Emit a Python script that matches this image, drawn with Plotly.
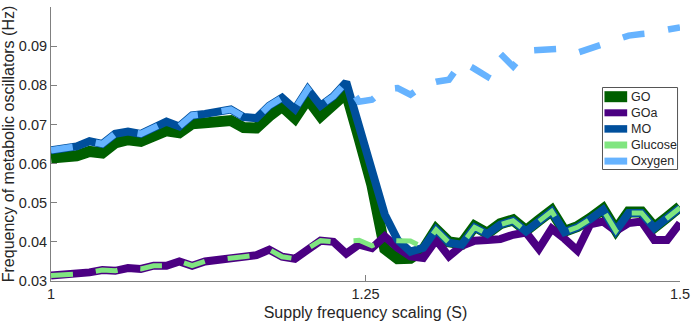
import plotly.graph_objects as go

# ---------------- data ----------------
S = [1.0000, 1.0102, 1.0204, 1.0306, 1.0408, 1.0510, 1.0612, 1.0714, 1.0816, 1.0918,
     1.1020, 1.1122, 1.1224, 1.1327, 1.1429, 1.1531, 1.1633, 1.1735, 1.1837, 1.1939,
     1.2041, 1.2143, 1.2245, 1.2347, 1.2449, 1.2551, 1.2653, 1.2755, 1.2857, 1.2959,
     1.3061, 1.3163, 1.3265, 1.3367, 1.3469, 1.3571, 1.3673, 1.3776, 1.3878, 1.3980,
     1.4082, 1.4184, 1.4286, 1.4388, 1.4490, 1.4592, 1.4694, 1.4796, 1.4898, 1.5000]

GO = [0.0614, 0.0616, 0.0620, 0.0631, 0.0627, 0.0653, 0.0661, 0.0657, 0.0674, 0.0684,
      0.0679, 0.0702, 0.0704, 0.0708, 0.0710, 0.0692, 0.0691, 0.0721, 0.0746, 0.0716,
      0.0765, 0.0721, 0.0750, 0.0780, 0.0665, 0.0545, 0.0382, 0.0357, 0.0358, 0.0380,
      0.0432, 0.0400, 0.0395, 0.0440, 0.0422, 0.0446, 0.0456, 0.0429, 0.0455, 0.0480,
      0.0427, 0.0439, 0.0460, 0.0484, 0.0430, 0.0476, 0.0476, 0.0437, 0.0463, 0.0490]

GOa = [0.0314, 0.0315, 0.0318, 0.0322, 0.0328, 0.0326, 0.0333, 0.0331, 0.0339, 0.0339,
       0.0350, 0.0339, 0.0350, 0.0355, 0.0357, 0.0362, 0.0366, 0.0380, 0.0362, 0.0357,
       0.0383, 0.0403, 0.0400, 0.0370, 0.0393, 0.0384, 0.0414, 0.0385, 0.0363, 0.0359,
       0.0405, 0.0363, 0.0390, 0.0403, 0.0405, 0.0407, 0.0418, 0.0424, 0.0382, 0.0434,
       0.0408, 0.0378, 0.0445, 0.0452, 0.0428, 0.0448, 0.0452, 0.0405, 0.0405, 0.0448]

MO = [0.0634, 0.0638, 0.0644, 0.0657, 0.0650, 0.0676, 0.0682, 0.0676, 0.0692, 0.0707,
      0.0695, 0.0723, 0.0727, 0.0733, 0.0738, 0.0719, 0.0716, 0.0748, 0.0768, 0.0739,
      0.0790, 0.0748, 0.0772, 0.0808, 0.0692, 0.0577, 0.0470, 0.0405, 0.0375, 0.0385,
      0.0431, 0.0398, 0.0393, 0.0437, 0.0420, 0.0444, 0.0454, 0.0427, 0.0452, 0.0478,
      0.0425, 0.0437, 0.0458, 0.0482, 0.0428, 0.0474, 0.0474, 0.0435, 0.0461, 0.0487]

Glucose = [0.0314, 0.0315, 0.0318, 0.0322, 0.0328, 0.0326, 0.0333, 0.0331, 0.0339, 0.0339,
           0.0350, 0.0339, 0.0350, 0.0355, 0.0357, 0.0362, 0.0366, 0.0380, 0.0362, 0.0357,
           0.0383, 0.0403, 0.0400, 0.0402, 0.0404, 0.0390, 0.0404, 0.0403, 0.0402, 0.0386,
           0.0431, 0.0398, 0.0393, 0.0437, 0.0420, 0.0444, 0.0454, 0.0427, 0.0452, 0.0478,
           0.0425, 0.0437, 0.0458, 0.0482, 0.0428, 0.0474, 0.0474, 0.0435, 0.0461, 0.0487]

Oxygen = [0.0634, 0.0638, 0.0644, 0.0657, 0.0650, 0.0676, 0.0682, 0.0676, 0.0692, 0.0707,
          0.0695, 0.0723, 0.0727, 0.0733, 0.0738, 0.0719, 0.0716, 0.0748, 0.0768, 0.0739,
          0.0790, 0.0748, 0.0772, 0.0808, 0.0758, 0.0763, 0.0790, 0.0793, 0.0776, 0.0799,
          0.0809, 0.0814, 0.0860, 0.0842, 0.0822, 0.0881, 0.0848, 0.0888, 0.0891, 0.0893,
          0.0894, 0.0883, 0.0894, 0.0904, 0.0919, 0.0927, 0.0931, 0.0934, 0.0942, 0.0948]

series_names = ["GO", "GOa", "MO", "Glucose", "Oxygen"]
series_values = [GO, GOa, MO, Glucose, Oxygen]

x_tickvals = [1, 1.25, 1.5]
x_ticktext = ["1", "1.25", "1.5"]
y_tickvals = [0.03, 0.04, 0.05, 0.06, 0.07, 0.08, 0.09, 0.1]
y_ticktext = ["0.03", "0.04", "0.05", "0.06", "0.07", "0.08", "0.09", "0.1"]

x_title = "Supply frequency scaling (S)"
y_title = "Frequency of metabolic oscillators (Hz)"

# ---------------- style ----------------
colors = ["#005f00", "#4b0082", "#004f9c", "#80e580", "#66b3ff"]
widths = [11, 8, 8, 5, 6.5]
dashes = ["solid", "solid", "solid", "22px,23px", "22px,24px"]
legend_widths = [11, 7, 7.5, 7, 7]

FONT = "Liberation Sans, Arial, Helvetica, sans-serif"
TXT = "#262626"
AX = "#808080"
TICK_SIZE = 14.5
TITLE_SIZE = 16

W, H = 697, 326
ML, MR, MT, MB = 49, 11, 7, 45
PW, PH = W - ML - MR, H - MT - MB


def px_x(px):
    return (px - ML) / PW


def px_y(py):
    return (H - MB - py) / PH


fig = go.Figure()
for name, vals, c, w, d in zip(series_names, series_values, colors, widths, dashes):
    fig.add_trace(go.Scatter(
        x=S, y=vals, mode="lines", name=name, showlegend=False,
        line=dict(color=c, width=w, dash=d),
    ))

# manual legend (MATLAB-like compact box)
shapes = [dict(type="rect", xref="paper", yref="paper",
               x0=px_x(607.5), x1=px_x(683.5), y0=px_y(169.5), y1=px_y(87.5),
               line=dict(color="#555555", width=1), fillcolor="white", layer="above")]
annotations = []
for k, (name, c, lw) in enumerate(zip(series_names, colors, legend_widths)):
    yy = 96.7 + 16.1 * k
    shapes.append(dict(type="line", xref="paper", yref="paper",
                       x0=px_x(609.5), x1=px_x(632.5), y0=px_y(yy), y1=px_y(yy),
                       line=dict(color=c, width=lw), layer="above"))
    annotations.append(dict(xref="paper", yref="paper", x=px_x(634.0), y=px_y(yy),
                            text=name, showarrow=False, xanchor="left", yanchor="middle",
                            font=dict(family=FONT, size=12.5, color=TXT)))

fig.update_layout(
    width=W, height=H,
    margin=dict(l=ML, r=MR, t=MT, b=MB, pad=0),
    paper_bgcolor="white", plot_bgcolor="white",
    font=dict(family=FONT, size=TICK_SIZE, color=TXT),
    shapes=shapes, annotations=annotations,
    showlegend=False,
)
fig.update_xaxes(
    range=[1, 1.5], tickvals=x_tickvals, ticktext=x_ticktext,
    showgrid=False, zeroline=False, showline=True, linecolor=AX, linewidth=1,
    ticks="inside", ticklen=6, tickcolor=AX, tickwidth=1,
    tickfont=dict(family=FONT, size=TICK_SIZE, color=TXT),
    title=dict(text=x_title, font=dict(family=FONT, size=TITLE_SIZE, color=TXT), standoff=5),
)
fig.update_yaxes(
    range=[0.03, 0.1], tickvals=y_tickvals, ticktext=y_ticktext,
    showgrid=False, zeroline=False, showline=True, linecolor=AX, linewidth=1,
    ticks="inside", ticklen=6, tickcolor=AX, tickwidth=1,
    tickfont=dict(family=FONT, size=TICK_SIZE, color=TXT),
    title=dict(text=y_title, font=dict(family=FONT, size=TITLE_SIZE, color=TXT), standoff=1),
)

fig.write_html("out.html")
